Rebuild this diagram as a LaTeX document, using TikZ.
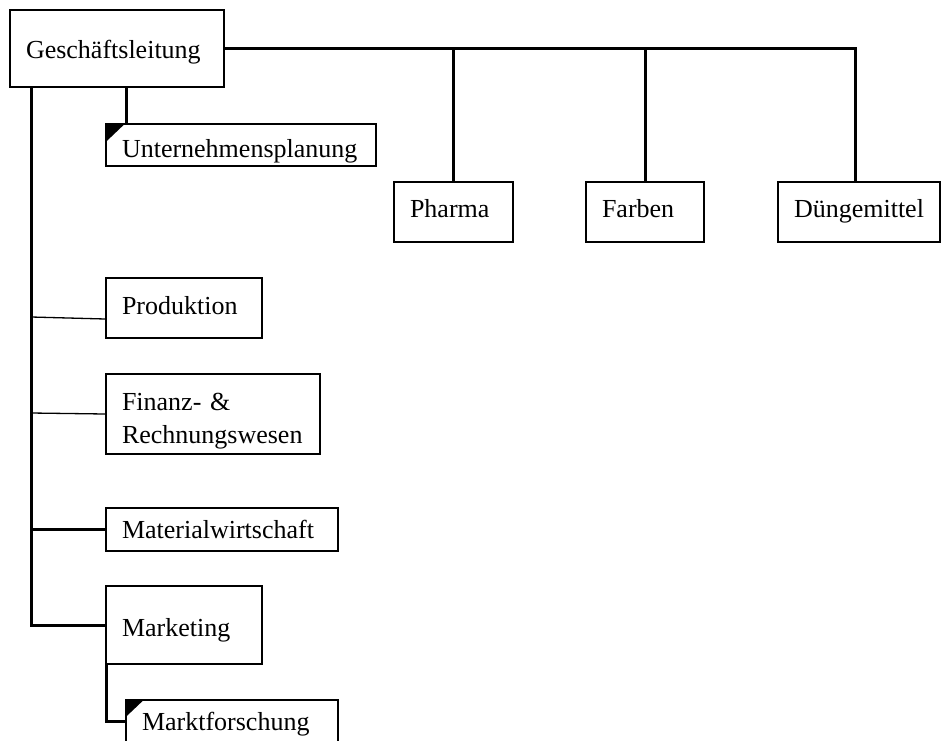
\documentclass[tikz,border=0pt]{standalone}
\usepackage{fontspec}
\setmainfont{Liberation Serif}
\begin{document}
\begin{tikzpicture}[x=1pt,y=-1pt,
  every node/.style={font=\fontsize{26}{33}\selectfont},
  unit/.style={draw, line width=1.3pt, rectangle, inner xsep=16pt, inner ysep=0pt,
    align=left, text height=20pt, text depth=4pt},
  thickline/.style={line width=3pt},
  thinline/.style={line width=1.3pt},
  corner/.style={fill=black}]
\useasboundingbox (0,0) rectangle (941,740);
\clip (0,0) rectangle (941,740);

% Leitung
\node[unit, minimum width=214pt, minimum height=77pt, text width=182pt, text depth=1pt]
  (gl) at (117,48.5) {Geschäftsleitung};

% Stab
\node[unit, minimum width=270pt, minimum height=42pt, text width=238pt, text height=24pt, text depth=0pt]
  (up) at (241,145) {Unternehmensplanung};

% Sparten
\node[unit, minimum width=119pt, minimum height=60pt, text width=87pt, text depth=10pt]
  (pharma) at (453.5,212) {Pharma};
\node[unit, minimum width=118pt, minimum height=60pt, text width=86pt, text depth=10pt]
  (farben) at (645,212) {Farben};
\node[unit, minimum width=162pt, minimum height=60pt, text width=130pt, text depth=10pt]
  (duen) at (859,212) {Düngemittel};

% Funktionen
\node[unit, minimum width=156pt, minimum height=60pt, text width=124pt, text depth=8pt]
  (prod) at (184,308) {Produktion};
\node[unit, minimum width=214pt, minimum height=80pt, text width=182pt, text depth=28pt]
  (fin) at (213,414) {Finanz- \&\\Rechnungswesen};
\node[unit, minimum width=232pt, minimum height=43pt, text width=200pt, text depth=3pt]
  (mat) at (222,529.5) {Materialwirtschaft};
\node[unit, minimum width=156pt, minimum height=78pt, text width=124pt, text height=22pt, text depth=0pt]
  (mkt) at (184,625) {Marketing};
\node[unit, minimum width=212pt, minimum height=43pt, text width=180pt, text depth=3pt]
  (mf) at (232,721.5) {Marktforschung};

% Stabsstellen-Markierung
\fill[corner] (up.north west) -- ++(20,0) -- ++(-20,19) -- cycle;
\fill[corner] (mf.north west) -- ++(19,0) -- ++(-19,18) -- cycle;

% Sparten-Verbindungen
\draw[thickline] (gl.east) -| ([xshift=-4pt]duen.north);
\draw[thickline] (pharma.north) -- (pharma.north |- gl.east);
\draw[thickline] (farben.north) -- (farben.north |- gl.east);

% Stabsstelle
\coordinate (upx) at ([xshift=21pt]up.north west);
\draw[thickline] (upx |- gl.south) -- (upx);

% Funktionsstrang
\coordinate (sp) at ([xshift=22pt]gl.south west);
\draw[thickline] (sp) |- (mkt.west);
\draw[thinline] (sp |- 0,317) -- ([yshift=-11pt]prod.west);
\draw[thinline] (sp |- 0,413) -- (fin.west);
\draw[thickline] (sp |- mat.west) -- (mat.west);

% Marketing -> Marktforschung
\draw[thickline] ([xshift=1pt]mkt.south west) |- (mf.west);
\end{tikzpicture}
\end{document}
